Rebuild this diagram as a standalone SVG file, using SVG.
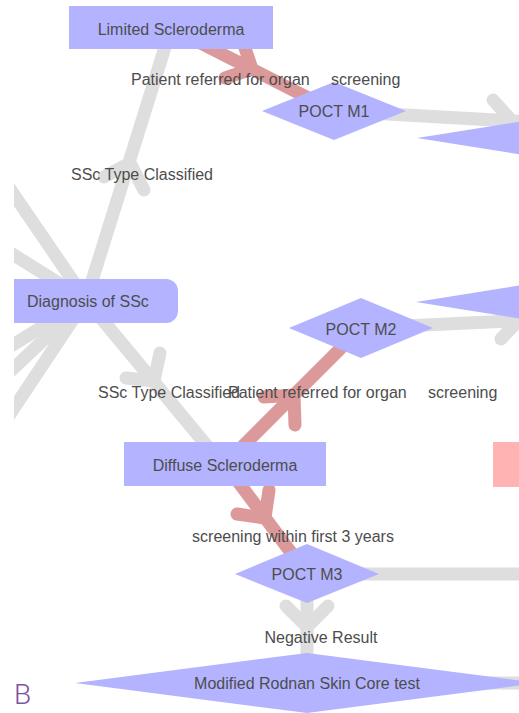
<svg xmlns="http://www.w3.org/2000/svg" width="519" height="713" viewBox="0 0 519 713">
  <defs>
    <clipPath id="panel">
      <rect x="14" y="0" width="505" height="713"/>
    </clipPath>
    <style>
      .edge { fill: none; stroke-linecap: round; stroke-linejoin: round; stroke-width: 13; }
      .grey { stroke: #dedede; }
      .red { stroke: #dc9999; }
      .node { fill: #b3b3ff; }
      .alert { fill: #ffb3b3; }
      text { font-family: "Liberation Sans", Arial, sans-serif; font-size: 16px; fill: #4d4d4d; }
      .mid { text-anchor: middle; }
      .tag { font-family: Roboto, "Liberation Sans", sans-serif; font-weight: 300; font-size: 28px; fill: #7f539f; }
    </style>
  </defs>

  <rect width="519" height="713" fill="#ffffff"/>

  <g clip-path="url(#panel)">
    <!-- connectors -->
    <g id="connectors">
      <!-- fan of edges leaving Diagnosis of SSc to the left -->
      <line class="edge grey" x1="86" y1="300" x2="-20" y2="145"/>
      <line class="edge grey" x1="86" y1="300" x2="-20" y2="234"/>
      <line class="edge grey" x1="86" y1="300" x2="-20" y2="365"/>
      <line class="edge grey" x1="86" y1="300" x2="-20" y2="400"/>
      <line class="edge grey" x1="86" y1="300" x2="-20" y2="459"/>

      <!-- Diagnosis -> Limited Scleroderma -->
      <line class="edge grey" x1="86" y1="300" x2="171" y2="28"/>
      <polyline class="edge grey" points="144,190 130,163 104,177"/>

      <!-- Diagnosis -> Diffuse Scleroderma -->
      <line class="edge grey" x1="86" y1="300" x2="222" y2="464"/>
      <polyline class="edge grey" points="126,378 154,381 160,353"/>

      <!-- Limited Scleroderma -> POCT M1 -->
      <line class="edge red" x1="171" y1="28" x2="334" y2="111"/>
      <polyline class="edge red" points="225,78 252,69 243,42"/>

      <!-- POCT M1 -> off to the right -->
      <line class="edge grey" x1="334" y1="111" x2="530" y2="122"/>
      <polyline class="edge grey" points="493,100 512,121 493,140"/>

      <!-- Diffuse Scleroderma -> POCT M2 -->
      <line class="edge red" x1="225" y1="464" x2="361" y2="328"/>
      <polyline class="edge red" points="264,397 294,395 295,425"/>

      <!-- POCT M2 -> off to the right -->
      <line class="edge grey" x1="361" y1="328" x2="530" y2="320"/>
      <polyline class="edge grey" points="500,302 518,321 501,339"/>

      <!-- Diffuse Scleroderma -> POCT M3 -->
      <line class="edge red" x1="225" y1="464" x2="307" y2="574"/>
      <polyline class="edge red" points="237,514 265,518 269,490"/>

      <!-- POCT M3 -> off to the right -->
      <line class="edge grey" x1="307" y1="574" x2="530" y2="574"/>

      <!-- POCT M3 -> Modified Rodnan Skin Core test -->
      <line class="edge grey" x1="307" y1="574" x2="307" y2="683"/>
      <polyline class="edge grey" points="286,606 307,627 328,606"/>

      <!-- Modified Rodnan -> off to the right -->
      <line class="edge grey" x1="307" y1="683" x2="530" y2="683" stroke-width="8"/>
    </g>

    <!-- nodes -->
    <g id="limited-scleroderma">
      <rect class="node" x="69" y="6" width="204" height="43"/>
      <text class="mid" x="171" y="35">Limited Scleroderma</text>
    </g>

    <g id="poct-m1">
      <polygon class="node" points="262,111 334,82 406,111 334,140"/>
      <text class="mid" x="334" y="117">POCT M1</text>
    </g>

    <g id="decision-right-1">
      <polygon class="node" points="417,138 649,101 881,138 649,175"/>
    </g>

    <g id="diagnosis-ssc">
      <rect class="node" x="-10" y="279" width="188" height="44" rx="12" ry="12"/>
      <text x="27" y="307">Diagnosis of SSc</text>
    </g>

    <g id="poct-m2">
      <polygon class="node" points="289,328 361,298 433,328 361,358"/>
      <text class="mid" x="361" y="335">POCT M2</text>
    </g>

    <g id="decision-right-2">
      <polygon class="node" points="416,302 648,265 880,302 648,339"/>
    </g>

    <g id="diffuse-scleroderma">
      <rect class="node" x="124" y="442" width="202" height="44"/>
      <text class="mid" x="225" y="471">Diffuse Scleroderma</text>
    </g>

    <g id="alert-right">
      <rect class="alert" x="493" y="442" width="60" height="45"/>
    </g>

    <g id="poct-m3">
      <polygon class="node" points="235,574 307,544 379,574 307,603"/>
      <text class="mid" x="307" y="580">POCT M3</text>
    </g>

    <g id="modified-rodnan">
      <polygon class="node" points="75,683 307,653 539,683 307,713"/>
      <text class="mid" x="307" y="689">Modified Rodnan Skin Core test</text>
    </g>

    <!-- edge labels -->
    <g id="edge-labels">
      <text x="131" y="85">Patient referred for organ<tspan x="331">screening</tspan></text>
      <text x="71" y="180">SSc Type Classified</text>
      <text x="98" y="398">SSc Type Classified</text>
      <text x="228" y="398">Patient referred for organ<tspan x="428">screening</tspan></text>
      <text class="mid" x="293" y="542">screening within first 3 years</text>
      <text class="mid" x="321" y="643">Negative Result</text>
    </g>
  </g>

  <text class="tag" x="14" y="704">B</text>
</svg>
